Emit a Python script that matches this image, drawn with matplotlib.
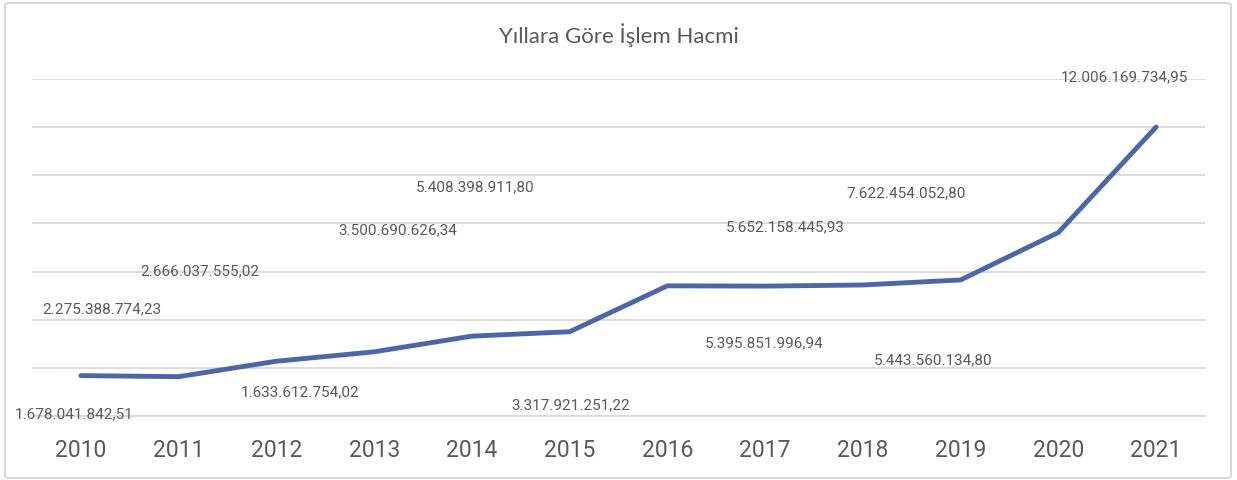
import matplotlib.pyplot as plt
from matplotlib.patches import FancyBboxPatch

years = ["2010", "2011", "2012", "2013", "2014", "2015",
         "2016", "2017", "2018", "2019", "2020", "2021"]
volume = [1678041842.51, 1633612754.02, 2275388774.23, 2666037555.02,
          3317921251.22, 3500690626.34, 5408398911.80, 5395851996.94,
          5443560134.80, 5652158445.93, 7622454052.80, 12006169734.95]
labels = ["1.678.041.842,51", "1.633.612.754,02", "2.275.388.774,23",
          "2.666.037.555,02", "3.317.921.251,22", "3.500.690.626,34",
          "5.408.398.911,80", "5.395.851.996,94", "5.443.560.134,80",
          "5.652.158.445,93", "7.622.454.052,80", "12.006.169.734,95"]
# where each data label ended up (category x, value y)
label_x = [-0.07, 2.24, 0.21, 1.22, 5.01, 3.24, 4.03, 6.99, 8.72, 7.21, 8.44, 10.68]
label_y = [0.13e9, 1.04e9, 4.49e9, 6.07e9, 0.50e9, 7.77e9,
           9.56e9, 3.07e9, 2.35e9, 7.89e9, 9.31e9, 14.1e9]

grey = "#595959"

fig = plt.figure(figsize=(12.37, 4.81), dpi=100)
ax = fig.add_axes([32 / 1237, 64 / 481, 1173 / 1237, 337 / 481])

x = range(len(years))
ax.plot(x, volume, color="#4A66AC", linewidth=3.5, solid_capstyle="round",
        solid_joinstyle="round", zorder=3)

for lx, ly, t in zip(label_x, label_y, labels):
    ax.text(lx, ly, t, ha="center", va="center", fontsize=11,
            family="Roboto", color=grey, zorder=4)

ax.set_xlim(-0.5, len(years) - 0.5)
ax.set_ylim(0, 14e9)
ax.set_yticks([i * 2e9 for i in range(8)])
ax.yaxis.grid(True, color="#D9D9D9", linewidth=1.3)
ax.set_axisbelow(True)
ax.tick_params(axis="y", left=False, labelleft=False)
ax.tick_params(axis="x", length=0, pad=16)
ax.set_xticks(list(x))
ax.set_xticklabels(years, fontsize=16.5, family="Roboto", color=grey)
for side in ["top", "right", "left"]:
    ax.spines[side].set_visible(False)
ax.spines["bottom"].set_color("#D9D9D9")
ax.spines["bottom"].set_linewidth(1.3)

fig.text(0.5, 1 - 35 / 481, "Yıllara Göre İşlem Hacmi", ha="center",
         va="center", fontsize=16, family="Lato", color=grey)

border = FancyBboxPatch((5 / 1237, 2 / 481), 1226 / 1237, 475 / 481,
                        boxstyle="round,pad=0,rounding_size=0.004",
                        transform=fig.transFigure, fill=False,
                        edgecolor="#D9D9D9", linewidth=1.5)
fig.patches.append(border)

fig.savefig("out.png", dpi=100)
